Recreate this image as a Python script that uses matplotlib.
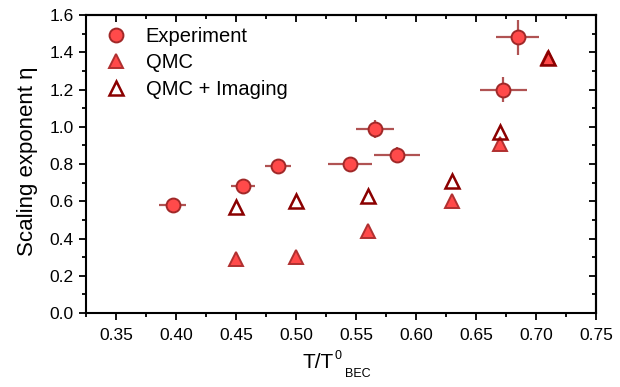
import matplotlib.pyplot as plt
from matplotlib.ticker import MultipleLocator

plt.rcParams['font.family'] = ['Liberation Sans', 'DejaVu Sans']
plt.rcParams['mathtext.fontset'] = 'custom'
plt.rcParams['mathtext.rm'] = 'Liberation Sans'

# Experiment
exp_t = [0.397, 0.456, 0.485, 0.545, 0.566, 0.584, 0.673, 0.685]
exp_eta = [0.58, 0.68, 0.79, 0.80, 0.99, 0.85, 1.20, 1.48]
exp_terr = [0.011, 0.010, 0.011, 0.018, 0.016, 0.019, 0.020, 0.018]
exp_etaerr = [0.015, 0.02, 0.03, 0.02, 0.048, 0.043, 0.067, 0.094]

# QMC
qmc_t = [0.45, 0.50, 0.56, 0.63, 0.67, 0.71]
qmc_eta = [0.29, 0.30, 0.44, 0.60, 0.91, 1.37]

# QMC + Imaging
img_t = [0.45, 0.50, 0.56, 0.63, 0.67, 0.71]
img_eta = [0.57, 0.60, 0.63, 0.71, 0.97, 1.37]

fill = '#ff4a4a'
edge = '#a02828'
dark = '#8b0000'

fig = plt.figure(figsize=(6.2, 3.87), dpi=100)
ax = fig.add_axes([0.139, 0.191, 0.822, 0.770])

ax.errorbar(exp_t, exp_eta, xerr=exp_terr, yerr=exp_etaerr, fmt='none',
            ecolor='#a84040', elinewidth=1.6, alpha=0.9, zorder=2)
ax.plot(exp_t, exp_eta, 'o', ms=10, mfc=fill, mec=edge, mew=1.4,
        label='Experiment', zorder=3)
ax.plot(qmc_t, qmc_eta, '^', ms=10, mfc=fill, mec='#b03030', mew=1.4,
        label='QMC', zorder=3)
ax.plot(img_t, img_eta, '^', ms=10, mfc='none', mec=dark, mew=1.8,
        label='QMC + Imaging', zorder=4)

ax.set_xlim(0.325, 0.75)
ax.set_ylim(0.0, 1.6)
ax.xaxis.set_major_locator(MultipleLocator(0.05))
ax.xaxis.set_minor_locator(MultipleLocator(0.025))
ax.yaxis.set_major_locator(MultipleLocator(0.2))
ax.yaxis.set_minor_locator(MultipleLocator(0.1))
ax.xaxis.set_major_formatter(plt.FormatStrFormatter('%.2f'))
ax.yaxis.set_major_formatter(plt.FormatStrFormatter('%.1f'))

for s in ax.spines.values():
    s.set_linewidth(1.5)

ax.tick_params(which='both', bottom=True, left=True, direction='out',
               labelsize=12.5, width=1.3)
ax.tick_params(which='major', length=5)
ax.tick_params(which='minor', length=3)
ax.tick_params(axis='x', which='major', pad=6)
ax.tick_params(axis='y', which='major', pad=4)

# inward ticks on top and right
sec_x = ax.secondary_xaxis('top')
sec_x.xaxis.set_major_locator(MultipleLocator(0.05))
sec_x.xaxis.set_minor_locator(MultipleLocator(0.025))
sec_x.tick_params(which='both', direction='in', labeltop=False, width=1.3)
sec_x.tick_params(which='major', length=5)
sec_x.tick_params(which='minor', length=3)
sec_y = ax.secondary_yaxis('right')
sec_y.yaxis.set_major_locator(MultipleLocator(0.2))
sec_y.yaxis.set_minor_locator(MultipleLocator(0.1))
sec_y.tick_params(which='both', direction='in', labelright=False, width=1.3)
sec_y.tick_params(which='major', length=5)
sec_y.tick_params(which='minor', length=3)
sec_x.spines['top'].set_linewidth(1.5)
sec_y.spines['right'].set_linewidth(1.5)

# x label: T/T with a raised 0 and a lowered, offset BEC
xl = ax.set_xlabel('T/T', fontsize=15, labelpad=7)
xl.set_x(0.455)
ax.annotate('0', xy=(1, 0), xycoords=xl, xytext=(0.5, 9.6),
            textcoords='offset points', ha='left', va='baseline', fontsize=9)
ax.annotate('BEC', xy=(1, 0), xycoords=xl, xytext=(8, -3.3),
            textcoords='offset points', ha='left', va='baseline', fontsize=9)

yl = ax.set_ylabel('Scaling exponent η', fontsize=16, labelpad=8)
yl.set_y(0.51)

ax.legend(loc='upper left', bbox_to_anchor=(0.012, 1.0), frameon=False,
          fontsize=14.5, handletextpad=0.85, labelspacing=0.36,
          borderaxespad=0.2, handlelength=1.2)

fig.savefig('out.png', dpi=100)
